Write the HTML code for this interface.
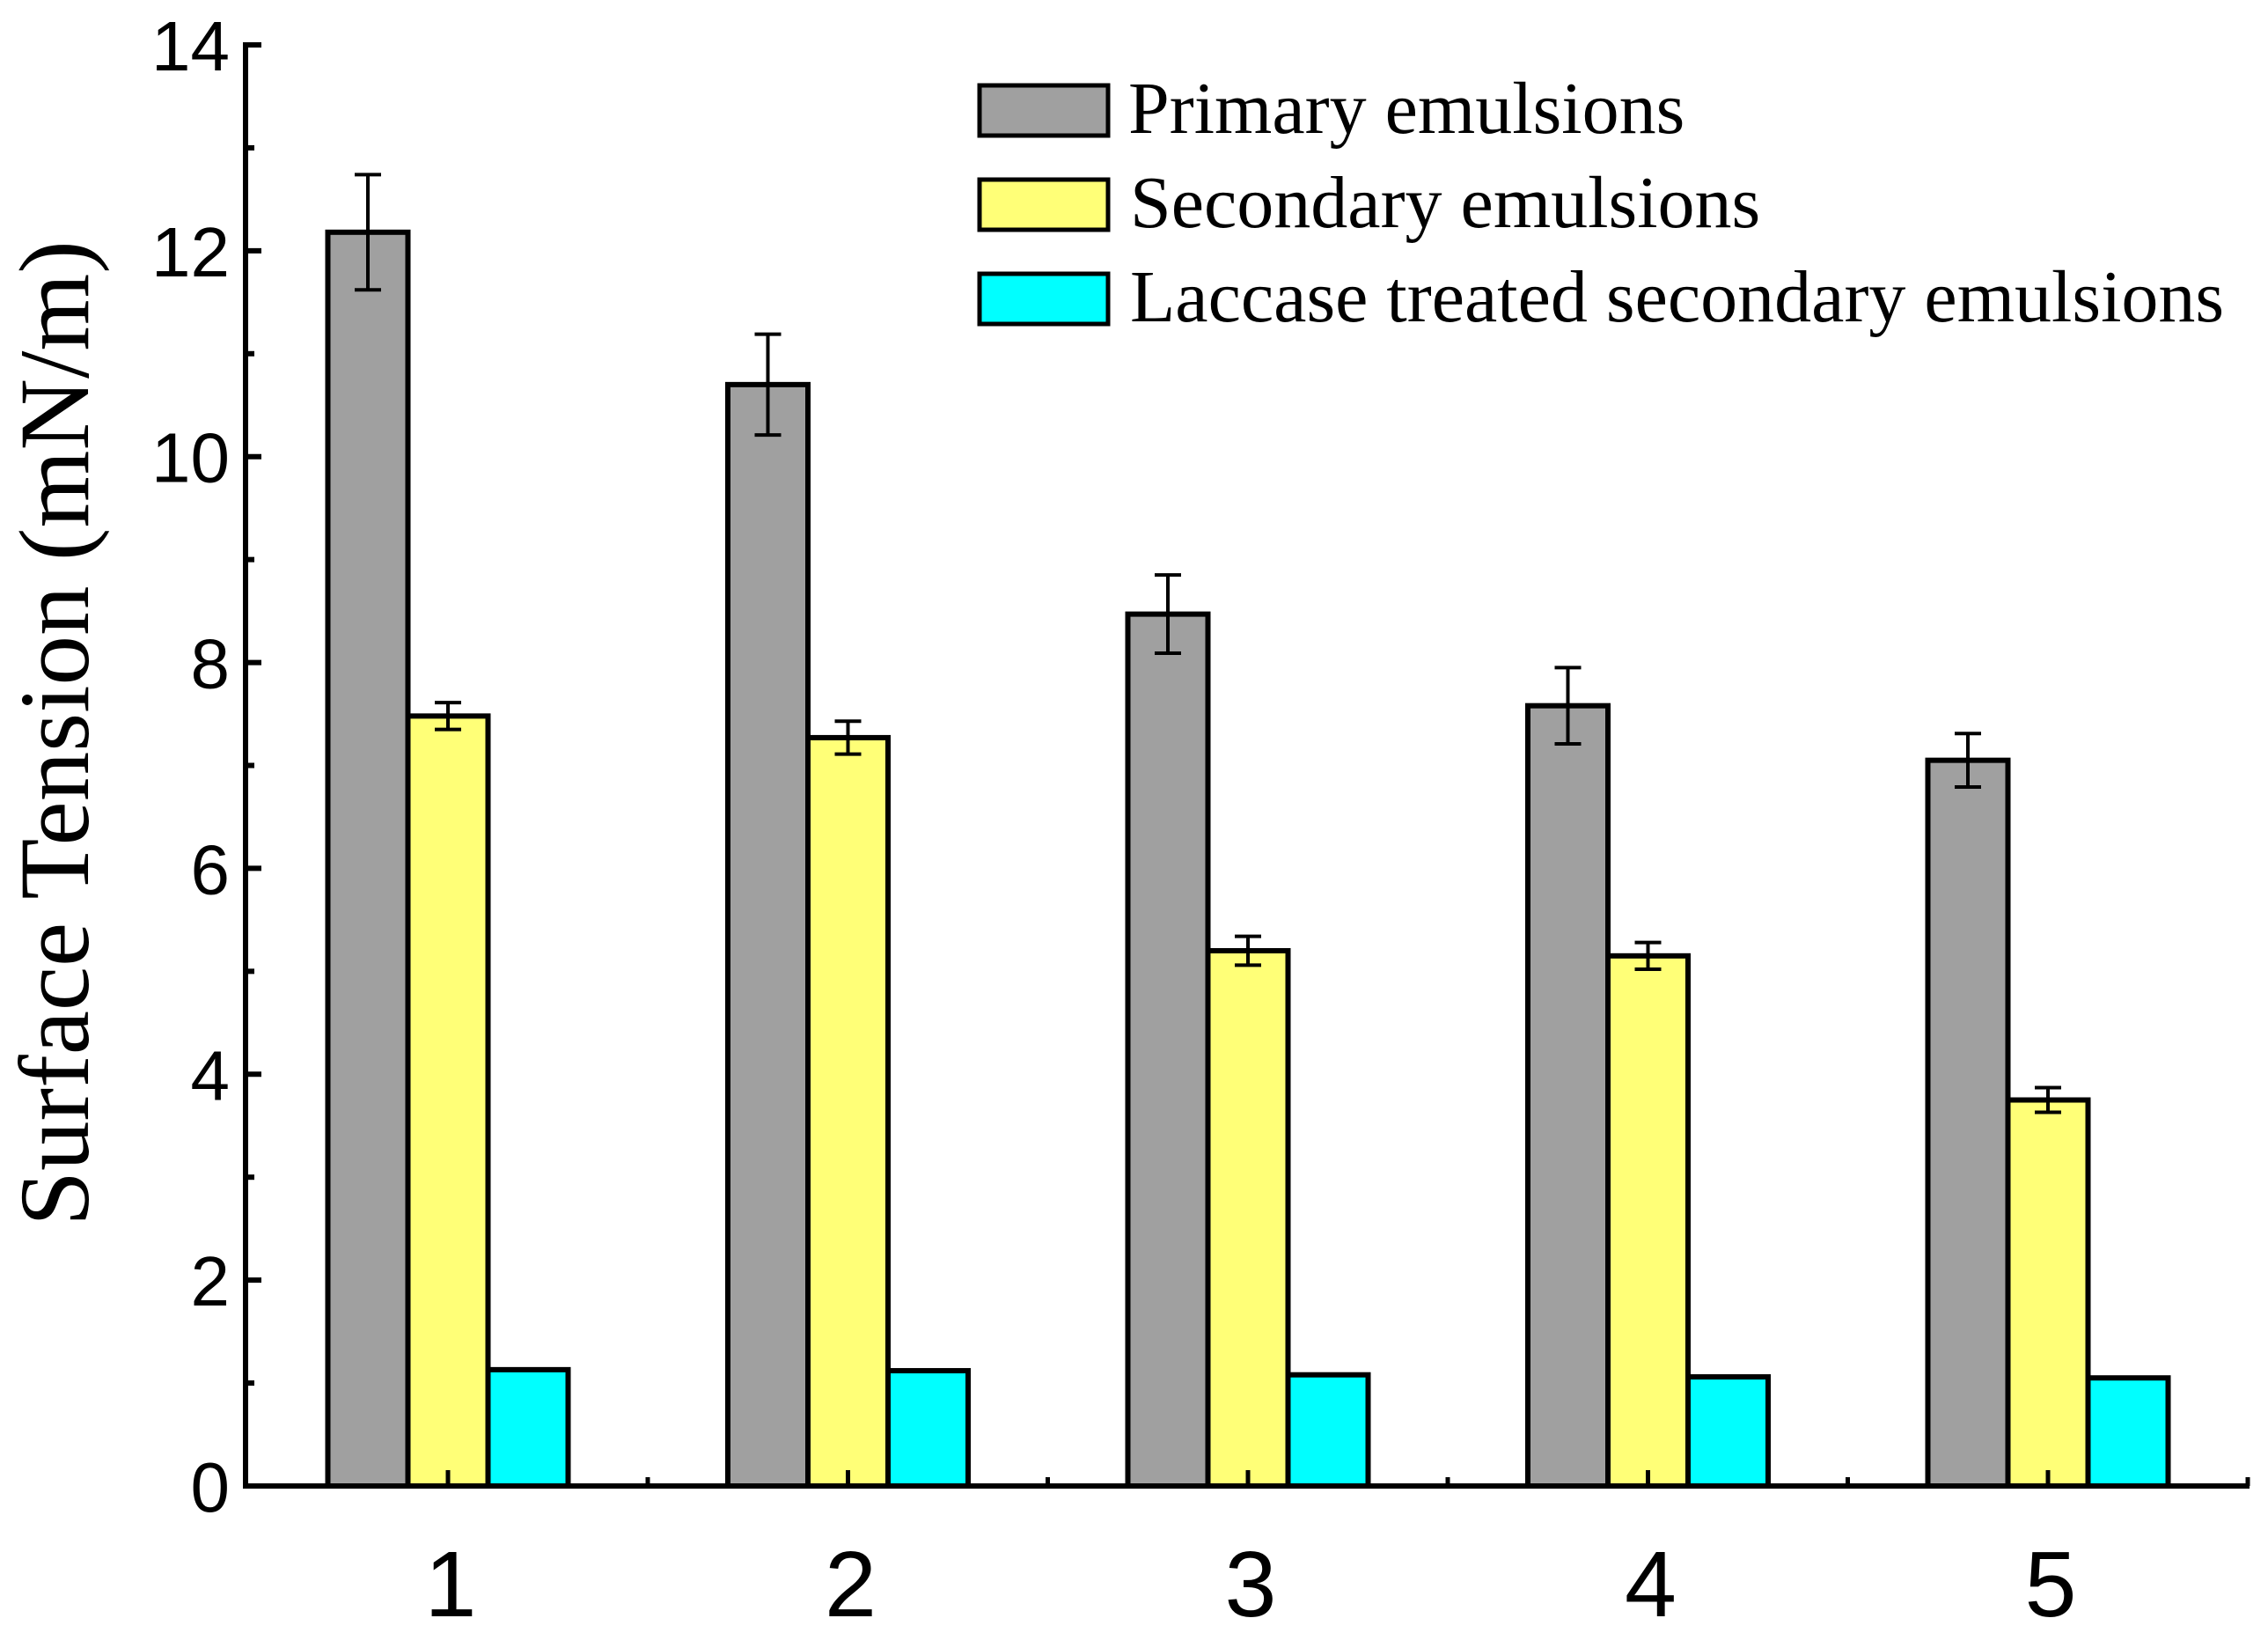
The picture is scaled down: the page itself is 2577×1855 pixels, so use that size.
<!DOCTYPE html>
<html><head><meta charset="utf-8"><style>
html,body{margin:0;padding:0;background:#fff;}
svg{display:block;}
</style></head><body>
<svg id="chart" width="2577" height="1855" viewBox="0 0 2577 1855" xmlns="http://www.w3.org/2000/svg">
<g id="marks"></g>
<g id="axes"></g>
<text transform="translate(100,833) rotate(-90)" text-anchor="middle" font-family="Liberation Serif, serif" font-size="113">Surface Tension (mN/m)</text>
<g font-family="Liberation Serif, serif" font-size="84">
 <g><rect x="1113" y="97" width="146" height="57" fill="#a0a0a0" stroke="#000" stroke-width="5"/><text x="1282" y="151">Primary emulsions</text></g>
 <g><rect x="1113" y="204" width="146" height="57" fill="#ffff77" stroke="#000" stroke-width="5"/><text x="1284" y="258">Secondary emulsions</text></g>
 <g><rect x="1113" y="311" width="146" height="57" fill="#00ffff" stroke="#000" stroke-width="5"/><text x="1284" y="365">Laccase treated secondary emulsions</text></g>
</g>
</svg>
<script>
const categories = ["1","2","3","4","5"];
const primary = [12.18,10.70,8.47,7.58,7.05];
const primaryErr = [0.56,0.49,0.38,0.37,0.26];
const secondary = [7.48,7.27,5.20,5.15,3.75];
const secondaryErr = [0.13,0.16,0.14,0.13,0.12];
const laccase = [1.13,1.12,1.08,1.06,1.05];
const laccaseErr = [0,0,0,0,0];
const yTicks = [0,2,4,6,8,10,12,14];

const NS="http://www.w3.org/2000/svg";
const X0=279, X1=2556, Y0=1688, Ytop=51, yMax=14;
const y = v => Y0 - v*(Y0-Ytop)/yMax;
const xc = i => 509 + i*454.5;
const BW=91;
function mk(tag, attrs, parent){const e=document.createElementNS(NS,tag);for(const k in attrs)e.setAttribute(k,attrs[k]);parent.appendChild(e);return e;}
const marks=document.getElementById('marks'), axes=document.getElementById('axes');
const series=[[primary,primaryErr,'#a0a0a0','primary'],[secondary,secondaryErr,'#ffff77','secondary'],[laccase,laccaseErr,'#00ffff','laccase']];
series.forEach((s,si)=>{
  s[0].forEach((v,i)=>{
    const x=xc(i)+(si-1)*BW-BW/2;
    const r=mk('rect',{x:x,y:y(v),width:BW,height:Y0-y(v),fill:s[2],stroke:'#000','stroke-width':6},marks);
    
    
    const e=s[1][i];
    if(e>0){
      const cx=x+BW/2;
      const g=mk('g',{stroke:'#000','stroke-width':4},marks);
      
      
      mk('line',{x1:cx,x2:cx,y1:y(v+e),y2:y(v-e)},g);
      mk('line',{x1:cx-15,x2:cx+15,y1:y(v+e),y2:y(v+e)},g);
      mk('line',{x1:cx-15,x2:cx+15,y1:y(v-e),y2:y(v-e)},g);
    }
  });
});
const ya=mk('line',{x1:X0,x2:X0,y1:Ytop-3,y2:Y0+3,stroke:'#000','stroke-width':6},axes);


const xa=mk('line',{x1:X0-3,x2:X1,y1:Y0,y2:Y0,stroke:'#000','stroke-width':6},axes);


for(let v=0;v<=yMax;v++){
  const major=v%2===0;
  mk('line',{x1:X0,x2:X0+(major?18:10),y1:y(v),y2:y(v),stroke:'#000','stroke-width':6},axes);
}
yTicks.forEach(v=>{
  const t=mk('text',{x:X0-18,y:y(v)+29,'text-anchor':'end','font-family':'Liberation Sans, sans-serif','font-size':80},axes);
  t.textContent=v;
  
  
});
categories.forEach((c,i)=>{
  mk('line',{x1:xc(i),x2:xc(i),y1:Y0,y2:Y0-18,stroke:'#000','stroke-width':5},axes);
  mk('line',{x1:xc(i)+227,x2:xc(i)+227,y1:Y0,y2:Y0-10,stroke:'#000','stroke-width':5},axes);
  const t=mk('text',{x:xc(i)+3,y:1836,'text-anchor':'middle','font-family':'Liberation Sans, sans-serif','font-size':106},axes);
  t.textContent=c;
  
  
});
</script>
</body></html>
